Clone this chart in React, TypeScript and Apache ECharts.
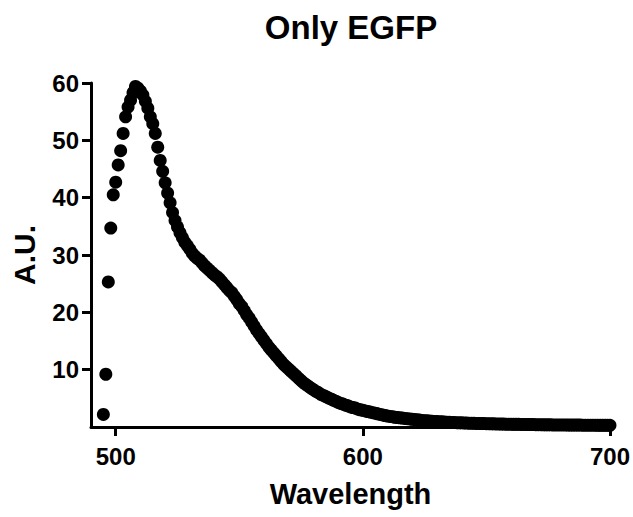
import React, { useEffect, useRef } from "react";
import * as echarts from "echarts";

const chartTitle = "Only EGFP";
const xAxisName = "Wavelength";
const yAxisName = "A.U.";
const xTickValues = [500, 600, 700];
const yTickValues = [10, 20, 30, 40, 50, 60];

const wavelengths = [
  495, 496, 497, 498, 499, 500, 501, 502, 503, 504,
  505, 506, 507, 508, 509, 510, 511, 512, 513, 514,
  515, 516, 517, 518, 519, 520, 521, 522, 523, 524,
  525, 526, 527, 528, 529, 530, 531, 532, 533, 534,
  535, 536, 537, 538, 539, 540, 541, 542, 543, 544,
  545, 546, 547, 548, 549, 550, 551, 552, 553, 554,
  555, 556, 557, 558, 559, 560, 561, 562, 563, 564,
  565, 566, 567, 568, 569, 570, 571, 572, 573, 574,
  575, 576, 577, 578, 579, 580, 581, 582, 583, 584,
  585, 586, 587, 588, 589, 590, 591, 592, 593, 594,
  595, 596, 597, 598, 599, 600, 601, 602, 603, 604,
  605, 606, 607, 608, 609, 610, 611, 612, 613, 614,
  615, 616, 617, 618, 619, 620, 621, 622, 623, 624,
  625, 626, 627, 628, 629, 630, 631, 632, 633, 634,
  635, 636, 637, 638, 639, 640, 641, 642, 643, 644,
  645, 646, 647, 648, 649, 650, 651, 652, 653, 654,
  655, 656, 657, 658, 659, 660, 661, 662, 663, 664,
  665, 666, 667, 668, 669, 670, 671, 672, 673, 674,
  675, 676, 677, 678, 679, 680, 681, 682, 683, 684,
  685, 686, 687, 688, 689, 690, 691, 692, 693, 694,
  695, 696, 697, 698, 699, 700,
];

const intensity = [
  2.2, 9.2, 25.3, 34.7, 40.5, 42.7, 45.7, 48.2, 51.2, 54.1,
  55.8, 57.0, 58.3, 59.4, 59.1, 58.6, 57.9, 56.8, 55.6, 54.1,
  52.9, 51.2, 48.8, 46.5, 44.6, 42.6, 40.8, 39.1, 37.4, 36.0,
  34.9, 33.9, 33.0, 32.2, 31.6, 31.0, 30.3, 29.8, 29.4, 29.1,
  28.6, 28.1, 27.7, 27.3, 26.9, 26.5, 26.2, 25.8, 25.3, 24.8,
  24.3, 23.8, 23.4, 22.8, 22.2, 21.5, 21.0, 20.3, 19.6, 19.0,
  18.3, 17.6, 16.9, 16.3, 15.7, 15.1, 14.5, 13.9, 13.4, 12.9,
  12.4, 11.9, 11.4, 10.9, 10.5, 10.1, 9.7, 9.3, 8.9, 8.5,
  8.1, 7.7, 7.4, 7.1, 6.8, 6.5, 6.2, 6.0, 5.7, 5.5,
  5.3, 5.1, 4.9, 4.7, 4.5, 4.3, 4.1, 4.0, 3.8, 3.7,
  3.5, 3.4, 3.3, 3.1, 3.0, 2.9, 2.8, 2.7, 2.6, 2.5,
  2.4, 2.3, 2.2, 2.1, 2.0, 1.9, 1.85, 1.8, 1.7, 1.65,
  1.6, 1.55, 1.5, 1.45, 1.4, 1.35, 1.3, 1.25, 1.2, 1.15,
  1.1, 1.08, 1.05, 1.0, 0.98, 0.95, 0.92, 0.9, 0.88, 0.85,
  0.83, 0.8, 0.78, 0.76, 0.74, 0.72, 0.7, 0.69, 0.67, 0.66,
  0.64, 0.63, 0.62, 0.6, 0.59, 0.58, 0.57, 0.56, 0.55, 0.54,
  0.53, 0.52, 0.51, 0.5, 0.49, 0.48, 0.47, 0.46, 0.46, 0.45,
  0.44, 0.44, 0.43, 0.42, 0.42, 0.41, 0.4, 0.4, 0.39, 0.39,
  0.38, 0.38, 0.37, 0.37, 0.36, 0.36, 0.35, 0.35, 0.34, 0.34,
  0.34, 0.33, 0.33, 0.33, 0.32, 0.32, 0.32, 0.31, 0.31, 0.31,
  0.3, 0.3, 0.3, 0.3, 0.29, 0.29,
];

const FONT = "'Liberation Sans', Arial, Helvetica, sans-serif";

export default function App() {
  const ref = useRef<HTMLDivElement>(null);

  useEffect(() => {
    if (!ref.current) return;
    const chart = echarts.init(ref.current, null, { renderer: "svg" });
    const points = wavelengths.map((w, i) => [w, intensity[i]]);
    chart.setOption({
      animation: false,
      backgroundColor: "#ffffff",
      title: {
        text: chartTitle,
        left: 351,
        top: 11,
        padding: 0,
        textAlign: "center",
        textStyle: {
          fontFamily: FONT,
          fontWeight: "bold",
          fontSize: 33,
          color: "#000000",
        },
      },
      grid: { left: 91, right: 23, top: 83, bottom: 90, containLabel: false },
      xAxis: {
        type: "value",
        min: 490,
        max: 700,
        name: xAxisName,
        nameLocation: "middle",
        nameGap: 52,
        nameTextStyle: {
          fontFamily: FONT,
          fontWeight: "bold",
          fontSize: 29,
          color: "#000000",
        },
        axisLine: { show: true, onZero: false, lineStyle: { color: "#000000", width: 3 } },
        axisTick: {
          show: true,
          customValues: xTickValues,
          length: 9,
          lineStyle: { color: "#000000", width: 3 },
        },
        axisLabel: {
          show: true,
          customValues: xTickValues,
          margin: 17,
          fontFamily: FONT,
          fontWeight: "bold",
          fontSize: 24,
          color: "#000000",
        },
        splitLine: { show: false },
      },
      yAxis: {
        type: "value",
        min: 0,
        max: 60,
        name: yAxisName,
        nameLocation: "middle",
        nameGap: 52,
        nameRotate: 90,
        nameTextStyle: {
          fontFamily: FONT,
          fontWeight: "bold",
          fontSize: 30,
          color: "#000000",
        },
        axisLine: { show: true, onZero: false, lineStyle: { color: "#000000", width: 3 } },
        axisTick: {
          show: true,
          customValues: yTickValues,
          length: 9,
          lineStyle: { color: "#000000", width: 3 },
        },
        axisLabel: {
          show: true,
          customValues: yTickValues,
          margin: 12,
          fontFamily: FONT,
          fontWeight: "bold",
          fontSize: 24,
          color: "#000000",
        },
        splitLine: { show: false },
      },
      series: [
        {
          type: "scatter",
          data: points,
          symbol: "circle",
          symbolSize: 13,
          clip: false,
          itemStyle: { color: "#000000", opacity: 1 },
          emphasis: { disabled: true },
        },
      ],
    });
    return () => chart.dispose();
  }, []);

  return (
    <div
      ref={ref}
      style={{ position: "fixed", left: 0, top: 0, width: 633, height: 517, background: "#fff" }}
    />
  );
}
